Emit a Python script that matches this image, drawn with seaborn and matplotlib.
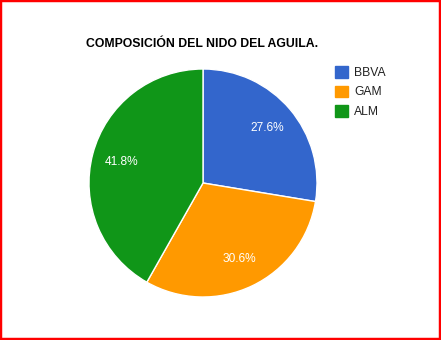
import matplotlib
matplotlib.use("Agg")
import matplotlib.pyplot as plt
import matplotlib.patches as mpatches
import seaborn as sns

categories = ["BBVA", "GAM", "ALM"]
values = [27.6, 30.6, 41.8]
colors = ["#3366cc", "#ff9900", "#109618"]
title = "COMPOSICIÓN DEL NIDO DEL AGUILA."

sns.set_style("white")
plt.rcParams['font.family'] = ['Liberation Sans', 'DejaVu Sans']

W, H = 441, 340
fig = plt.figure(figsize=(W / 100, H / 100), dpi=100)
fig.patch.set_facecolor("white")

cx, cy, r = 203, 183, 114
ax = fig.add_axes([(cx - r) / W, 1 - (cy + r) / H, 2 * r / W, 2 * r / H])
wedges, texts, autotexts = ax.pie(
    values, colors=sns.color_palette(colors), startangle=90, counterclock=False,
    autopct="%.1f%%", pctdistance=0.74,
    wedgeprops=dict(edgecolor="white", linewidth=1),
    textprops=dict(color="white", fontsize=8.6),
)
ax.set_xlim(-1, 1)
ax.set_ylim(-1, 1)
ax.set_aspect("equal")
ax.axis("off")

fig.text(202 / W, 1 - 44 / H, title, ha="center", va="center",
         fontsize=8.8, fontweight="bold", color="black")

handles = [mpatches.Patch(facecolor=c, edgecolor=c) for c in colors]
leg = fig.legend(handles, categories, loc="upper left",
                 bbox_to_anchor=(335 / W, 1 - 66 / H), frameon=False,
                 fontsize=8.7, handlelength=1.1, handleheight=1.1,
                 handletextpad=0.5, labelspacing=0.55, borderaxespad=0,
                 borderpad=0)
for t in leg.get_texts():
    t.set_color("#222222")

border = mpatches.Rectangle((0, 0), 1, 1, transform=fig.transFigure,
                            fill=False, edgecolor="red", linewidth=3.2,
                            zorder=10)
fig.patches.append(border)

fig.savefig("out.png", dpi=100)
